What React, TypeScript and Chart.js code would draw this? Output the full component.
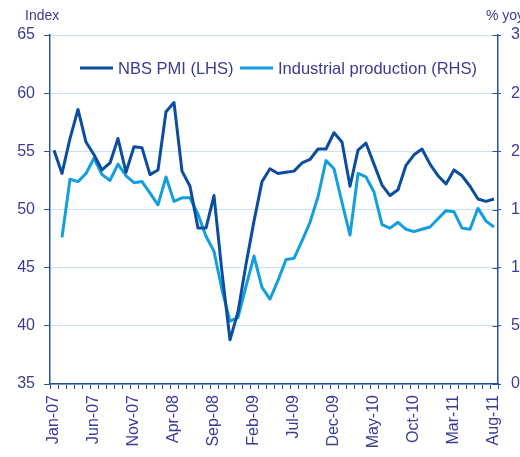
import { useEffect, useRef } from "react";
import { Chart, registerables } from "chart.js";

Chart.register(...registerables);

const categories: string[] = [
  "Jan-07", "Feb-07", "Mar-07", "Apr-07", "May-07", "Jun-07", "Jul-07", "Aug-07", "Sep-07", "Oct-07", "Nov-07", "Dec-07",
  "Jan-08", "Feb-08", "Mar-08", "Apr-08", "May-08", "Jun-08", "Jul-08", "Aug-08", "Sep-08", "Oct-08", "Nov-08", "Dec-08",
  "Jan-09", "Feb-09", "Mar-09", "Apr-09", "May-09", "Jun-09", "Jul-09", "Aug-09", "Sep-09", "Oct-09", "Nov-09", "Dec-09",
  "Jan-10", "Feb-10", "Mar-10", "Apr-10", "May-10", "Jun-10", "Jul-10", "Aug-10", "Sep-10", "Oct-10", "Nov-10", "Dec-10",
  "Jan-11", "Feb-11", "Mar-11", "Apr-11", "May-11", "Jun-11", "Jul-11", "Aug-11",
];

const shownTickLabels: string[] = [
  "Jan-07", "Jun-07", "Nov-07", "Apr-08", "Sep-08", "Feb-09", "Jul-09", "Dec-09", "May-10", "Oct-10", "Mar-11", "Aug-11",
];

const pmiLabel = "NBS PMI (LHS)";
const pmi: number[] = [
  55.1, 53.1, 56.1, 58.6, 55.8, 54.7, 53.4, 54.0, 56.1, 53.2, 55.4, 55.3,
  53.0, 53.4, 58.4, 59.2, 53.3, 52.0, 48.4, 48.4, 51.2, 44.6, 38.8, 41.2,
  45.3, 49.0, 52.4, 53.5, 53.1, 53.2, 53.3, 54.0, 54.3, 55.2, 55.2, 56.6,
  55.8, 52.0, 55.1, 55.7, 53.9, 52.1, 51.2, 51.7, 53.8, 54.7, 55.2, 53.9,
  52.9, 52.2, 53.4, 52.9, 52.0, 50.9, 50.7, 50.9,
];

const ipLabel = "Industrial production (RHS)";
const industrialProduction: (number | null)[] = [
  null, 12.6, 17.6, 17.4, 18.1, 19.4, 18.0, 17.5, 18.9, 17.9, 17.3, 17.4,
  16.4, 15.4, 17.8, 15.7, 16.0, 16.0, 14.6, 12.7, 11.4, 8.1, 5.4, 5.7,
  8.4, 11.0, 8.3, 7.3, 8.9, 10.7, 10.8, 12.3, 13.9, 16.1, 19.2, 18.5,
  15.6, 12.8, 18.1, 17.8, 16.5, 13.7, 13.4, 13.9, 13.3, 13.1, 13.3, 13.5,
  14.2, 14.9, 14.8, 13.4, 13.3, 15.1, 14.0, 13.5,
];

const leftAxis = { min: 35, max: 65, step: 5, title: "Index" };
const rightAxis = { min: 0, max: 30, step: 5, title: "% yoy" };

const FONT = "'Liberation Sans', Arial, sans-serif";
const TEXT = "#3b3b94";
const AXIS = "#2452a0";
const GRID = "#c8e5f4";
const PMI_COLOR = "#0c4d9f";
const IP_COLOR = "#139fdd";

const overlayPlugin = {
  id: "overlay",
  afterDraw(chart: any) {
    const ctx = chart.ctx as CanvasRenderingContext2D;
    ctx.save();

    // inner tick marks on the right axis
    const y2 = chart.scales.y2;
    if (y2) {
      ctx.strokeStyle = AXIS;
      ctx.lineWidth = 1;
      const ax = Math.round(y2.left) + 0.5;
      y2.ticks.forEach((_t: any, i: number) => {
        const py = Math.round(y2.getPixelForTick(i)) + 0.5;
        ctx.beginPath();
        ctx.moveTo(ax - 6, py);
        ctx.lineTo(ax, py);
        ctx.stroke();
      });
    }

    ctx.fillStyle = TEXT;
    ctx.textBaseline = "middle";
    ctx.textAlign = "left";
    ctx.font = `14px ${FONT}`;
    ctx.fillText(leftAxis.title, 25, 16);
    ctx.fillText(rightAxis.title, 486, 16);

    ctx.font = `16.5px ${FONT}`;
    const legendX = [80, 240];
    const legendY = 68;
    chart.data.datasets.forEach((ds: any, i: number) => {
      const x = legendX[i];
      ctx.strokeStyle = ds.borderColor;
      ctx.lineWidth = 3;
      ctx.lineCap = "butt";
      ctx.beginPath();
      ctx.moveTo(x, legendY);
      ctx.lineTo(x + 33, legendY);
      ctx.stroke();
      ctx.fillStyle = TEXT;
      ctx.fillText(ds.label, x + 38, legendY + 1);
    });
    ctx.restore();
  },
};

export default function App() {
  const canvasRef = useRef<HTMLCanvasElement | null>(null);

  useEffect(() => {
    document.body.style.margin = "0";
    const canvas = canvasRef.current;
    if (!canvas) return;
    const chart = new Chart(canvas, {
      type: "line",
      data: {
        labels: categories,
        datasets: [
          {
            label: pmiLabel,
            data: pmi,
            borderColor: PMI_COLOR,
            backgroundColor: PMI_COLOR,
            borderWidth: 3,
            pointRadius: 0,
            tension: 0,
            borderJoinStyle: "round",
            yAxisID: "y",
          },
          {
            label: ipLabel,
            data: industrialProduction,
            borderColor: IP_COLOR,
            backgroundColor: IP_COLOR,
            borderWidth: 3,
            pointRadius: 0,
            tension: 0,
            borderJoinStyle: "round",
            yAxisID: "y2",
          },
        ],
      },
      options: {
        animation: false,
        responsive: true,
        maintainAspectRatio: false,
        layout: { padding: { top: 35, left: 0, right: 0, bottom: 0 } },
        plugins: {
          legend: { display: false },
          tooltip: { enabled: false },
        },
        scales: {
          x: {
            type: "category",
            offset: true,
            afterFit: (scale: any) => {
              scale.height = 73;
            },
            grid: {
              offset: true,
              drawOnChartArea: false,
              drawTicks: true,
              tickLength: 5,
              tickColor: AXIS,
              tickWidth: 1,
            },
            border: { color: AXIS, width: 1.5 },
            ticks: {
              autoSkip: false,
              minRotation: 90,
              maxRotation: 90,
              padding: 6,
              color: TEXT,
              font: { family: FONT, size: 16 },
              callback: function (this: any, _v: any, index: number) {
                const lab = categories[index];
                return shownTickLabels.includes(lab) ? lab : "";
              },
            },
          },
          y: {
            position: "left",
            min: leftAxis.min,
            max: leftAxis.max,
            afterFit: (scale: any) => {
              scale.width = 50;
            },
            grid: {
              color: GRID,
              lineWidth: 1,
              drawTicks: true,
              tickLength: 6,
              tickColor: AXIS,
            },
            border: { color: AXIS, width: 1.5 },
            ticks: {
              stepSize: leftAxis.step,
              padding: 9,
              color: TEXT,
              font: { family: FONT, size: 16 },
            },
          },
          y2: {
            position: "right",
            min: rightAxis.min,
            max: rightAxis.max,
            afterFit: (scale: any) => {
              scale.width = 22;
            },
            grid: {
              drawOnChartArea: false,
              drawTicks: true,
              tickLength: 3,
              tickColor: AXIS,
            },
            border: { color: AXIS, width: 1.5 },
            ticks: {
              stepSize: rightAxis.step,
              padding: 10,
              color: TEXT,
              font: { family: FONT, size: 16 },
            },
          },
        },
      },
      plugins: [overlayPlugin],
    });
    return () => chart.destroy();
  }, []);

  return (
    <div style={{ position: "relative", width: 520, height: 457 }}>
      <canvas ref={canvasRef} />
    </div>
  );
}
